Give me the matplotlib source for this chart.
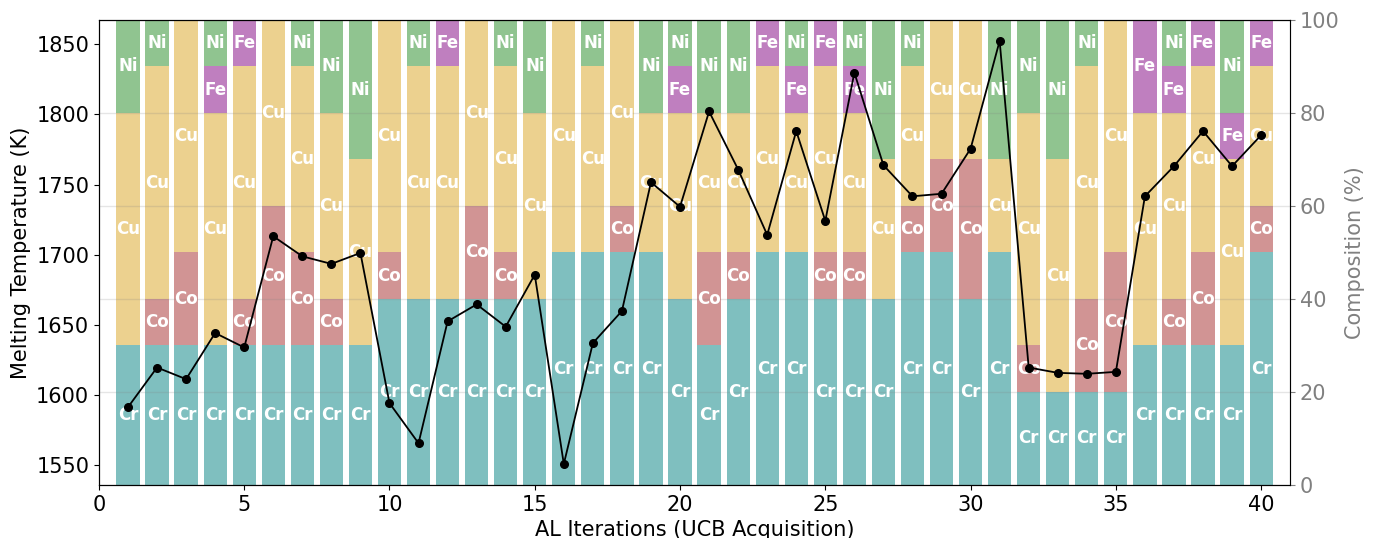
import numpy as np
import matplotlib.pyplot as plt

# AL iteration data: composition (%) of each candidate alloy and its melting temperature
iterations = np.arange(1, 41)
elements = ['Cr', 'Co', 'Cu', 'Fe', 'Ni']
colors = ['teal', 'brown', 'goldenrod', 'purple', 'forestgreen']

cr = [30, 30, 30, 30, 30, 30, 30, 30, 30, 40,
      40, 40, 40, 40, 40, 50, 50, 50, 50, 40,
      30, 40, 50, 50, 40, 40, 40, 50, 50, 40,
      50, 20, 20, 20, 20, 30, 30, 30, 30, 50]
co = [0, 10, 20, 0, 10, 30, 20, 10, 0, 10,
      0, 0, 20, 10, 0, 0, 0, 10, 0, 0,
      20, 10, 0, 0, 10, 10, 0, 10, 20, 30,
      0, 10, 0, 20, 30, 0, 10, 20, 0, 10]
cu = [50, 50, 50, 50, 50, 40, 40, 40, 40, 50,
      50, 50, 40, 40, 40, 50, 40, 40, 30, 40,
      30, 30, 40, 30, 40, 30, 30, 30, 30, 30,
      20, 50, 50, 50, 50, 50, 40, 40, 40, 30]
fe = [0, 0, 0, 10, 10, 0, 0, 0, 0, 0,
      0, 10, 0, 0, 0, 0, 0, 0, 0, 10,
      0, 0, 10, 10, 10, 10, 0, 0, 0, 0,
      0, 0, 0, 0, 0, 20, 10, 10, 10, 10]
ni = [20, 10, 0, 10, 0, 0, 10, 20, 30, 0,
      10, 0, 0, 10, 20, 0, 10, 0, 20, 10,
      20, 20, 0, 10, 0, 10, 30, 10, 0, 0,
      30, 20, 30, 10, 0, 0, 10, 0, 20, 0]

melt_temp = [1591.2, 1619.5, 1611.2, 1644.1, 1633.8, 1713.1, 1698.8, 1693.4, 1701.2, 1594.1,
             1565.5, 1652.4, 1664.5, 1648.6, 1685.7, 1550.7, 1636.9, 1659.8, 1751.6, 1734.1,
             1802.1, 1760.7, 1714.1, 1788.1, 1724.1, 1829.8, 1763.8, 1741.6, 1743.4, 1775.5,
             1852.4, 1619.5, 1615.7, 1615.0, 1616.4, 1741.6, 1763.1, 1788.1, 1763.1, 1785.2]

comps = [cr, co, cu, fe, ni]

fig = plt.figure(figsize=(13.74, 5.38), dpi=100)
ax = fig.add_subplot(111)
ax2 = ax.twinx()

# stacked composition bars on the right axis
bottom = np.zeros(len(iterations))
for el, col, vals in zip(elements, colors, comps):
    vals = np.array(vals, dtype=float)
    ax2.bar(iterations, vals, bottom=bottom, color=col, alpha=0.5, width=0.8)
    for x, b, v in zip(iterations, bottom, vals):
        if v > 0:
            ax2.text(x, b + v / 2, el, ha='center', va='center', color='white',
                     fontsize=12, fontweight='bold')
    bottom += vals

ax2.set_ylim(0, 100)
ax2.set_ylabel('Composition (%)', fontsize=15, color='grey')
ax2.tick_params(axis='y', colors='grey', labelsize=15)
ax2.spines['right'].set_color('grey')
ax2.grid(True, axis='y', color='grey', alpha=0.2, linewidth=1)
ax2.set_axisbelow(False)

# melting temperature line on top
ax.set_zorder(ax2.get_zorder() + 1)
ax.patch.set_visible(False)
ax.plot(iterations, melt_temp, 'o-', color='black', linewidth=1.3, markersize=5.5)
ax.set_ylim(min(melt_temp) - 15, max(melt_temp) + 15)
ax.set_xlim(0, 41)
ax.set_xlabel('AL Iterations (UCB Acquisition)', fontsize=15)
ax.set_ylabel('Melting Temperature (K)', fontsize=15)
ax.tick_params(axis='both', labelsize=15)

plt.subplots_adjust(left=0.072, right=0.939, top=0.963, bottom=0.0985)
plt.savefig('out.png', dpi=100)
